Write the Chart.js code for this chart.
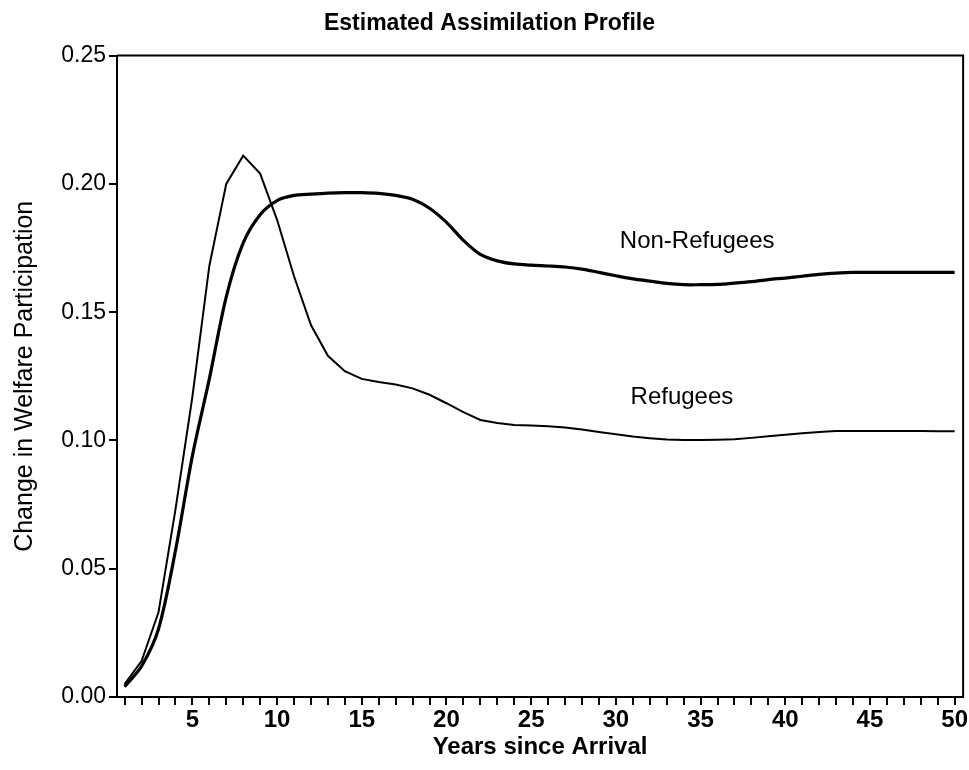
<!DOCTYPE html>
<html>
<head>
<meta charset="utf-8">
<script src="https://cdn.jsdelivr.net/npm/chart.js@4.4.1/dist/chart.umd.min.js"></script>
<style>
  html, body { margin: 0; padding: 0; background: #fff; }
  #wrap { width: 969px; height: 770px; position: relative; }
</style>
</head>
<body>
<div id="wrap"><canvas id="chart"></canvas></div>
<script>
// years since arrival, 1..50
const years = [1, 2, 3, 4, 5, 6, 7, 8, 9, 10,
  11, 12, 13, 14, 15, 16, 17, 18, 19, 20,
  21, 22, 23, 24, 25, 26, 27, 28, 29, 30,
  31, 32, 33, 34, 35, 36, 37, 38, 39, 40,
  41, 42, 43, 44, 45, 46, 47, 48, 49, 50];

// thin line
const refugees = [0.005, 0.014, 0.033, 0.073, 0.117, 0.168, 0.200, 0.211, 0.204, 0.186,
  0.164, 0.145, 0.133, 0.127, 0.124, 0.1228, 0.1218, 0.1203, 0.1178, 0.1145,
  0.111, 0.108, 0.1068, 0.106, 0.1058, 0.1055, 0.105, 0.1043, 0.1033, 0.1024,
  0.1015, 0.1009, 0.1004, 0.1002, 0.1002, 0.1003, 0.1005, 0.101, 0.1016, 0.1022,
  0.1028, 0.1033, 0.1037, 0.1037, 0.1037, 0.1037, 0.1037, 0.1037, 0.1036, 0.1036];

// thick line
const nonRefugees = [0.004, 0.012, 0.0265, 0.057, 0.094, 0.124, 0.156, 0.177, 0.188, 0.1935,
  0.1955, 0.196, 0.1964, 0.1966, 0.1966, 0.1963, 0.1955, 0.194, 0.1905, 0.185,
  0.178, 0.1725, 0.170, 0.1688, 0.1683, 0.168, 0.1676, 0.1668, 0.1655, 0.1642,
  0.163, 0.1621, 0.1612, 0.1607, 0.1607, 0.1608, 0.1613, 0.1619, 0.1627, 0.1633,
  0.164, 0.1647, 0.1652, 0.1655, 0.1655, 0.1655, 0.1655, 0.1655, 0.1655, 0.1655];

const yTicks = [0, 0.05, 0.10, 0.15, 0.20, 0.25];
const seriesLabels = [
  { text: 'Non-Refugees', x: 34.8, y: 0.1775 },
  { text: 'Refugees', x: 33.9, y: 0.1166 }
];

const FONT = "'Liberation Sans', Arial, sans-serif";

const frame = {
  id: 'frame',
  afterDraw(chart) {
    const { ctx, chartArea: a, scales } = chart;
    ctx.save();
    ctx.strokeStyle = '#000';
    ctx.lineWidth = 2;
    ctx.beginPath();
    ctx.moveTo(a.left, a.top);
    ctx.lineTo(a.right, a.top);
    ctx.lineTo(a.right, a.bottom);
    ctx.stroke();
    ctx.fillStyle = '#000';
    ctx.font = '24px ' + FONT;
    ctx.textAlign = 'center';
    ctx.textBaseline = 'middle';
    seriesLabels.forEach(l => {
      ctx.fillText(l.text, scales.x.getPixelForValue(l.x), scales.y.getPixelForValue(l.y));
    });
    ctx.restore();
  }
};

const toPoints = vals => years.map((yr, i) => ({ x: yr, y: vals[i] }));

new Chart(document.getElementById('chart'), {
  type: 'line',
  data: {
    datasets: [{
      label: 'Refugees',
      data: toPoints(refugees),
      borderColor: '#000',
      borderWidth: 2,
      pointRadius: 0,
      tension: 0
    },
    {
      label: 'Non-Refugees',
      data: toPoints(nonRefugees),
      borderColor: '#000',
      borderWidth: 3.2,
      pointRadius: 0,
      tension: 0.3
    }]
  },
  options: {
    responsive: true,
    maintainAspectRatio: false,
    animation: false,
    layout: { padding: { left: 10, right: 0, top: 0, bottom: 0 } },
    plugins: {
      legend: { display: false },
      tooltip: { enabled: false },
      title: {
        display: true,
        text: 'Estimated Assimilation Profile',
        color: '#000',
        font: { family: FONT, size: 23, weight: 'bold' },
        padding: { top: 10, bottom: 18 }
      }
    },
    scales: {
      x: {
        type: 'linear',
        min: 0.55,
        max: 50.5,
        afterFit(scale) { scale.height = 73; },
        afterBuildTicks(scale) { scale.ticks = years.map(v => ({ value: v })); },
        grid: { drawOnChartArea: false, drawTicks: true, tickLength: 8, color: '#000', lineWidth: 2 },
        border: { display: true, color: '#000', width: 2 },
        ticks: {
          autoSkip: false,
          maxRotation: 0,
          padding: 1,
          color: '#000',
          font: { family: FONT, size: 24, weight: 'bold' },
          callback: v => (v % 5 === 0 ? String(v) : '')
        },
        title: {
          display: true,
          text: 'Years since Arrival',
          color: '#000',
          font: { family: FONT, size: 24, weight: 'bold' },
          padding: { top: 0, bottom: 8 }
        }
      },
      y: {
        type: 'linear',
        min: 0,
        max: 0.25,
        afterFit(scale) { scale.width = 107; },
        afterBuildTicks(scale) { scale.ticks = yTicks.map(v => ({ value: v })); },
        grid: { drawOnChartArea: false, drawTicks: true, tickLength: 8, color: '#000', lineWidth: 2 },
        border: { display: true, color: '#000', width: 2 },
        ticks: {
          padding: 3,
          color: '#000',
          font: { family: FONT, size: 23 },
          callback: v => v.toFixed(2)
        },
        title: {
          display: true,
          text: 'Change in Welfare Participation',
          color: '#000',
          font: { family: FONT, size: 25 },
          padding: { top: 0, bottom: 0 }
        }
      }
    }
  },
  plugins: [frame]
});
</script>
</body>
</html>
